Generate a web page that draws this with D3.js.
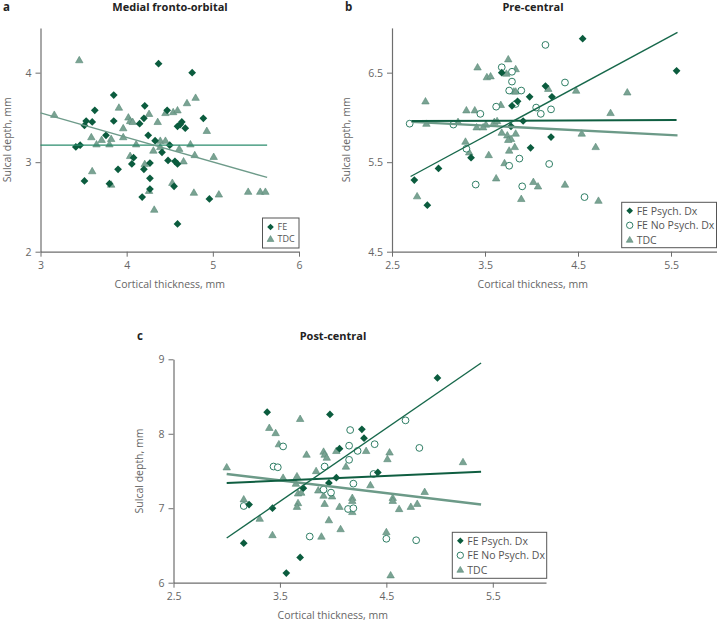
<!DOCTYPE html>
<html><head><meta charset="utf-8">
<script src="https://cdn.jsdelivr.net/npm/d3@7"></script>
<style>
html,body{margin:0;padding:0;background:#fff;}
svg{display:block;font-family:"Open Sans","Noto Sans",sans-serif;}
</style></head>
<body>
<svg id="chart" width="717" height="622"></svg>
<script>
// ---------- DATA ----------
const seriesNames = ["FE Psych. Dx", "FE No Psych. Dx", "TDC"];
const panelA_legend = ["FE", "TDC"];
const titles = ["Medial fronto-orbital", "Pre-central", "Post-central"];
const panelLetters = ["a", "b", "c"];
const xTicksA = [3, 4, 5, 6];
const yTicksA = [2, 3, 4];
const xTicksB = [2.5, 3.5, 4.5, 5.5];
const yTicksB = [4.5, 5.5, 6.5];
const xTicksC = [2.5, 3.5, 4.5, 5.5];
const yTicksC = [6, 7, 8, 9];

const aFE = [[4.37,4.10],[4.76,4.00],[3.85,3.75],[3.63,3.58],[4.21,3.63],[4.47,3.58],[4.89,3.49],[3.53,3.46],[3.60,3.45],[3.85,3.46],[3.51,3.41],[4.20,3.49],[4.15,3.43],[4.64,3.45],[4.62,3.42],[4.59,3.40],[4.68,3.38],[3.76,3.30],[4.25,3.30],[4.33,3.24],[4.50,3.19],[3.41,3.17],[3.46,3.19],[4.41,3.11],[4.08,3.05],[4.06,2.98],[4.27,2.99],[4.20,2.92],[4.48,3.02],[4.56,3.01],[4.59,2.98],[3.90,2.92],[3.51,2.79],[3.80,2.76],[4.27,2.82],[4.27,2.70],[4.55,2.73],[4.18,2.61],[4.96,2.59],[4.59,2.31]];
const aTDC = [[3.45,4.14],[3.16,3.53],[3.91,3.61],[4.70,3.66],[4.80,3.72],[4.45,3.55],[4.54,3.56],[4.59,3.58],[4.26,3.54],[4.02,3.50],[4.04,3.46],[4.07,3.45],[4.36,3.45],[3.96,3.38],[4.93,3.35],[3.59,3.28],[3.71,3.25],[3.82,3.26],[3.96,3.28],[3.65,3.20],[3.80,3.20],[4.11,3.20],[4.39,3.24],[4.45,3.24],[4.74,3.20],[4.31,3.13],[4.39,3.17],[4.61,3.15],[4.79,3.08],[5.01,3.06],[4.04,3.07],[4.21,2.98],[4.66,3.01],[3.60,2.90],[3.82,2.75],[4.53,2.77],[4.26,2.68],[4.78,2.66],[5.07,2.64],[5.41,2.67],[5.55,2.67],[5.61,2.67],[4.32,2.47]];
const aLineFE = [[3.0,3.19],[5.63,3.19]];
const aLineTDC = [[3.0,3.55],[5.63,2.83]];

const bPsych = [[4.55,6.88],[5.56,6.52],[3.68,6.50],[4.15,6.35],[3.98,6.23],[4.22,6.23],[3.85,6.18],[3.79,6.13],[3.91,5.96],[3.78,5.90],[4.21,5.78],[3.99,5.66],[3.35,5.55],[3.00,5.43],[2.74,5.30],[2.88,5.02]];
const bNoPsych = [[4.15,6.81],[3.68,6.56],[3.79,6.51],[3.79,6.40],[3.76,6.30],[3.89,6.30],[4.36,6.39],[3.83,6.15],[3.62,6.12],[4.05,6.11],[4.21,6.09],[4.10,6.04],[3.45,6.04],[2.69,5.93],[3.16,5.92],[3.30,5.65],[3.87,5.54],[3.76,5.46],[4.19,5.48],[3.40,5.25],[3.90,5.23],[4.57,5.11]];
const bTDC = [[3.75,6.65],[3.42,6.56],[3.83,6.54],[3.52,6.45],[3.56,6.46],[3.73,6.49],[2.86,6.18],[3.81,6.29],[3.83,6.29],[4.18,6.32],[4.48,6.30],[5.03,6.28],[4.85,6.05],[3.30,6.08],[3.39,6.08],[3.67,6.14],[2.87,5.93],[3.21,5.95],[3.51,5.92],[3.41,5.89],[3.48,5.89],[3.60,5.95],[3.63,5.96],[3.68,5.83],[3.74,5.80],[3.83,5.82],[4.54,5.82],[3.78,5.76],[3.75,5.75],[3.29,5.73],[4.69,5.67],[3.33,5.61],[3.54,5.58],[3.76,5.63],[3.82,5.67],[3.71,5.49],[3.62,5.32],[4.02,5.28],[4.07,5.23],[4.36,5.25],[2.77,5.12],[3.89,5.09],[4.72,5.07]];
const bLinePsych = [[2.70,5.34],[5.57,6.95]];
const bLineNoPsych = [[2.71,5.96],[5.56,5.97]];
const bLineTDC = [[2.71,5.95],[5.57,5.80]];

const cPsych = [[4.98,8.75],[3.38,8.29],[3.97,8.26],[4.27,8.06],[4.29,7.94],[4.06,7.80],[4.42,7.48],[4.03,7.41],[3.96,7.34],[3.72,7.27],[3.21,7.05],[3.43,7.00],[3.16,6.53],[3.69,6.34],[3.56,6.13]];
const cNoPsych = [[4.68,8.18],[4.16,8.05],[3.53,7.83],[4.15,7.84],[4.39,7.86],[4.23,7.77],[4.81,7.81],[4.15,7.65],[3.44,7.56],[3.48,7.55],[3.92,7.56],[4.38,7.46],[4.19,7.33],[3.91,7.25],[3.98,7.21],[3.16,7.03],[4.14,6.99],[4.19,7.00],[3.78,6.62],[4.50,6.59],[4.78,6.57]];
const cTDC = [[3.69,8.20],[3.40,8.08],[3.46,8.01],[3.49,7.86],[3.75,7.72],[3.91,7.76],[3.92,7.72],[3.94,7.68],[4.03,7.77],[4.31,7.77],[4.53,7.75],[4.51,7.66],[5.22,7.62],[3.00,7.55],[4.12,7.56],[3.84,7.50],[3.53,7.41],[3.66,7.43],[3.65,7.33],[3.67,7.20],[3.70,7.21],[3.86,7.24],[3.91,7.17],[3.99,7.16],[4.35,7.31],[4.56,7.14],[4.56,7.10],[4.18,7.14],[4.18,7.10],[4.86,7.22],[3.16,7.12],[3.67,7.07],[3.66,7.02],[3.92,7.06],[4.06,7.02],[4.18,6.95],[4.62,6.99],[4.73,7.02],[4.79,7.06],[3.31,6.86],[3.96,6.84],[3.43,6.64],[3.89,6.62],[4.07,6.72],[4.50,6.68],[4.54,6.10]];
const cLinePsych = [[3.00,6.60],[5.39,8.95]];
const cLineNoPsych = [[3.00,7.34],[5.39,7.49]];
const cLineTDC = [[3.00,7.46],[5.39,7.05]];

// ---------- STYLE ----------
const C = {
  dia: "#0b5c3e",
  tri: "#7aa393", triStroke: "#5a8b78",
  circ: "#2f7e65",
  steep: "#17684b", flat: "#0f5e41", tdc: "#6c9a88",
  aFE: "#2a8c6c", aTDC: "#6e9b8a",
  axis: "#6e6e6e", tick: "#666", title: "#222"
};

const svg = d3.select("#chart");

function drawPanel(cfg) {
  const x = d3.scaleLinear().domain(cfg.xd).range(cfg.xr);
  const y = d3.scaleLinear().domain(cfg.yd).range(cfg.yr);
  const g = svg.append("g");

  const xa = g.append("g").attr("transform", `translate(0,${cfg.yr[0]})`)
    .call(d3.axisBottom(x).tickValues(cfg.xt).tickSize(5).tickSizeOuter(0).tickPadding(5).tickFormat(d3.format("~g")));
  const ya = g.append("g").attr("transform", `translate(${cfg.xr[0]},0)`)
    .call(d3.axisLeft(y).tickValues(cfg.yt).tickSize(5).tickSizeOuter(0).tickPadding(4).tickFormat(d3.format("~g")));
  [xa, ya].forEach(a => {
    a.select(".domain").attr("stroke", C.axis).attr("stroke-width", 1.2);
    a.selectAll(".tick line").attr("stroke", C.axis).attr("stroke-width", 1);
    a.selectAll(".tick text").attr("fill", C.tick).style("font-size", "10.5px").style("font-family", '"Open Sans",sans-serif');
  });

  // titles
  g.append("text").attr("x", cfg.letterX).attr("y", cfg.titleY).text(cfg.letter)
    .attr("fill", C.title).style("font-weight", "bold").style("font-size", "11.5px");
  g.append("text").attr("x", cfg.titleX).attr("y", cfg.titleY).attr("text-anchor", "middle").text(cfg.title)
    .attr("fill", C.title).style("font-weight", "bold").style("font-size", "11px");
  g.append("text").attr("x", (cfg.xr[0] + cfg.xr[1]) / 2 + cfg.xLabDx).attr("y", cfg.yr[0] + 36)
    .attr("text-anchor", "middle").text("Cortical thickness, mm").attr("fill", C.tick).style("font-size", "10.5px");
  g.append("text").attr("transform", `translate(${cfg.yLabX},${(cfg.yr[0] + cfg.yr[1]) / 2}) rotate(-90)`)
    .attr("text-anchor", "middle").text("Sulcal depth, mm").attr("fill", C.tick).style("font-size", "10.5px");

  const diamond = d3.symbol().type(d3.symbolSquare).size(30);
  const tri = d3.symbol().type(d3.symbolTriangle).size(24);

  if (cfg.tdc) g.append("g").selectAll("path").data(cfg.tdc).join("path")
    .attr("d", tri).attr("transform", d => `translate(${x(d[0])},${y(d[1]) + 0.5})`)
    .attr("fill", C.tri).attr("stroke", C.triStroke).attr("stroke-width", 0.6);
  if (cfg.nopsych) g.append("g").selectAll("circle").data(cfg.nopsych).join("circle")
    .attr("cx", d => x(d[0])).attr("cy", d => y(d[1])).attr("r", 3.4)
    .attr("fill", "#fff").attr("stroke", C.circ).attr("stroke-width", 1);
  if (cfg.psych) g.append("g").selectAll("path").data(cfg.psych).join("path")
    .attr("d", diamond).attr("transform", d => `translate(${x(d[0])},${y(d[1])}) rotate(45)`)
    .attr("fill", C.dia);

  const line = d3.line().x(d => x(d[0])).y(d => y(d[1]));
  cfg.lines.forEach(l => {
    g.append("path").attr("d", line(l.data)).attr("fill", "none")
      .attr("stroke", l.color).attr("stroke-width", l.w);
  });

  // legend
  const L = cfg.legend;
  g.append("rect").attr("x", L.x).attr("y", L.y).attr("width", L.w).attr("height", L.h)
    .attr("fill", "#fff").attr("stroke", "#555").attr("stroke-width", 1);
  L.items.forEach((it, i) => {
    const cy = L.y + L.top + i * L.dy, cx = L.x + 8;
    if (it.kind === "dia") g.append("path").attr("d", d3.symbol().type(d3.symbolSquare).size(22))
      .attr("transform", `translate(${cx},${cy}) rotate(45)`).attr("fill", C.dia);
    if (it.kind === "circ") g.append("circle").attr("cx", cx).attr("cy", cy).attr("r", 3.2)
      .attr("fill", "#fff").attr("stroke", C.circ).attr("stroke-width", 1);
    if (it.kind === "tri") g.append("path").attr("d", d3.symbol().type(d3.symbolTriangle).size(20))
      .attr("transform", `translate(${cx},${cy + 0.5})`).attr("fill", C.tri).attr("stroke", C.triStroke).attr("stroke-width", 0.6);
    g.append("text").attr("x", cx + 7).attr("y", cy + L.fs * 0.36).text(it.label)
      .attr("fill", "#555").style("font-size", L.fs + "px");
  });
}

drawPanel({
  xd: [3, 6], xr: [40.5, 299], yd: [2, 4.5], yr: [251.7, 27.9],
  xt: xTicksA, yt: yTicksA, letter: panelLetters[0], title: titles[0],
  letterX: 3, titleX: 170, titleY: 11, xLabDx: 0, yLabX: 11,
  psych: aFE, tdc: aTDC,
  lines: [{data: aLineFE, color: C.aFE, w: 1.4}, {data: aLineTDC, color: C.aTDC, w: 1.4}],
  legend: {x: 262.5, y: 218, w: 36.5, h: 30, dy: 12, top: 9, fs: 9,
    items: [{kind: "dia", label: panelA_legend[0]}, {kind: "tri", label: panelA_legend[1]}]}
});

drawPanel({
  xd: [2.5, 6], xr: [392, 717.5], yd: [4.5, 7], yr: [251.7, 27.9],
  xt: xTicksB, yt: yTicksB, letter: panelLetters[1], title: titles[1],
  letterX: 345, titleX: 533, titleY: 11, xLabDx: -22, yLabX: 350,
  psych: bPsych, nopsych: bNoPsych, tdc: bTDC,
  lines: [{data: bLineTDC, color: C.tdc, w: 2.4}, {data: bLineNoPsych, color: C.flat, w: 2}, {data: bLinePsych, color: C.steep, w: 1.4}],
  legend: {x: 621.7, y: 202.3, w: 94.8, h: 45.4, dy: 14.5, top: 8.5, fs: 10.5,
    items: [{kind: "dia", label: seriesNames[0]}, {kind: "circ", label: seriesNames[1]}, {kind: "tri", label: seriesNames[2]}]}
});

drawPanel({
  xd: [2.5, 6], xr: [173.5, 546], yd: [6, 9], yr: [582.7, 359.3],
  xt: xTicksC, yt: yTicksC, letter: panelLetters[2], title: titles[2],
  letterX: 137, titleX: 333, titleY: 340, xLabDx: -27, yLabX: 143,
  psych: cPsych, nopsych: cNoPsych, tdc: cTDC,
  lines: [{data: cLineTDC, color: C.tdc, w: 2.4}, {data: cLineNoPsych, color: C.flat, w: 2}, {data: cLinePsych, color: C.steep, w: 1.4}],
  legend: {x: 452.3, y: 532.3, w: 94.4, h: 46, dy: 14.5, top: 8.5, fs: 10.5,
    items: [{kind: "dia", label: seriesNames[0]}, {kind: "circ", label: seriesNames[1]}, {kind: "tri", label: seriesNames[2]}]}
});
</script>
</body></html>
